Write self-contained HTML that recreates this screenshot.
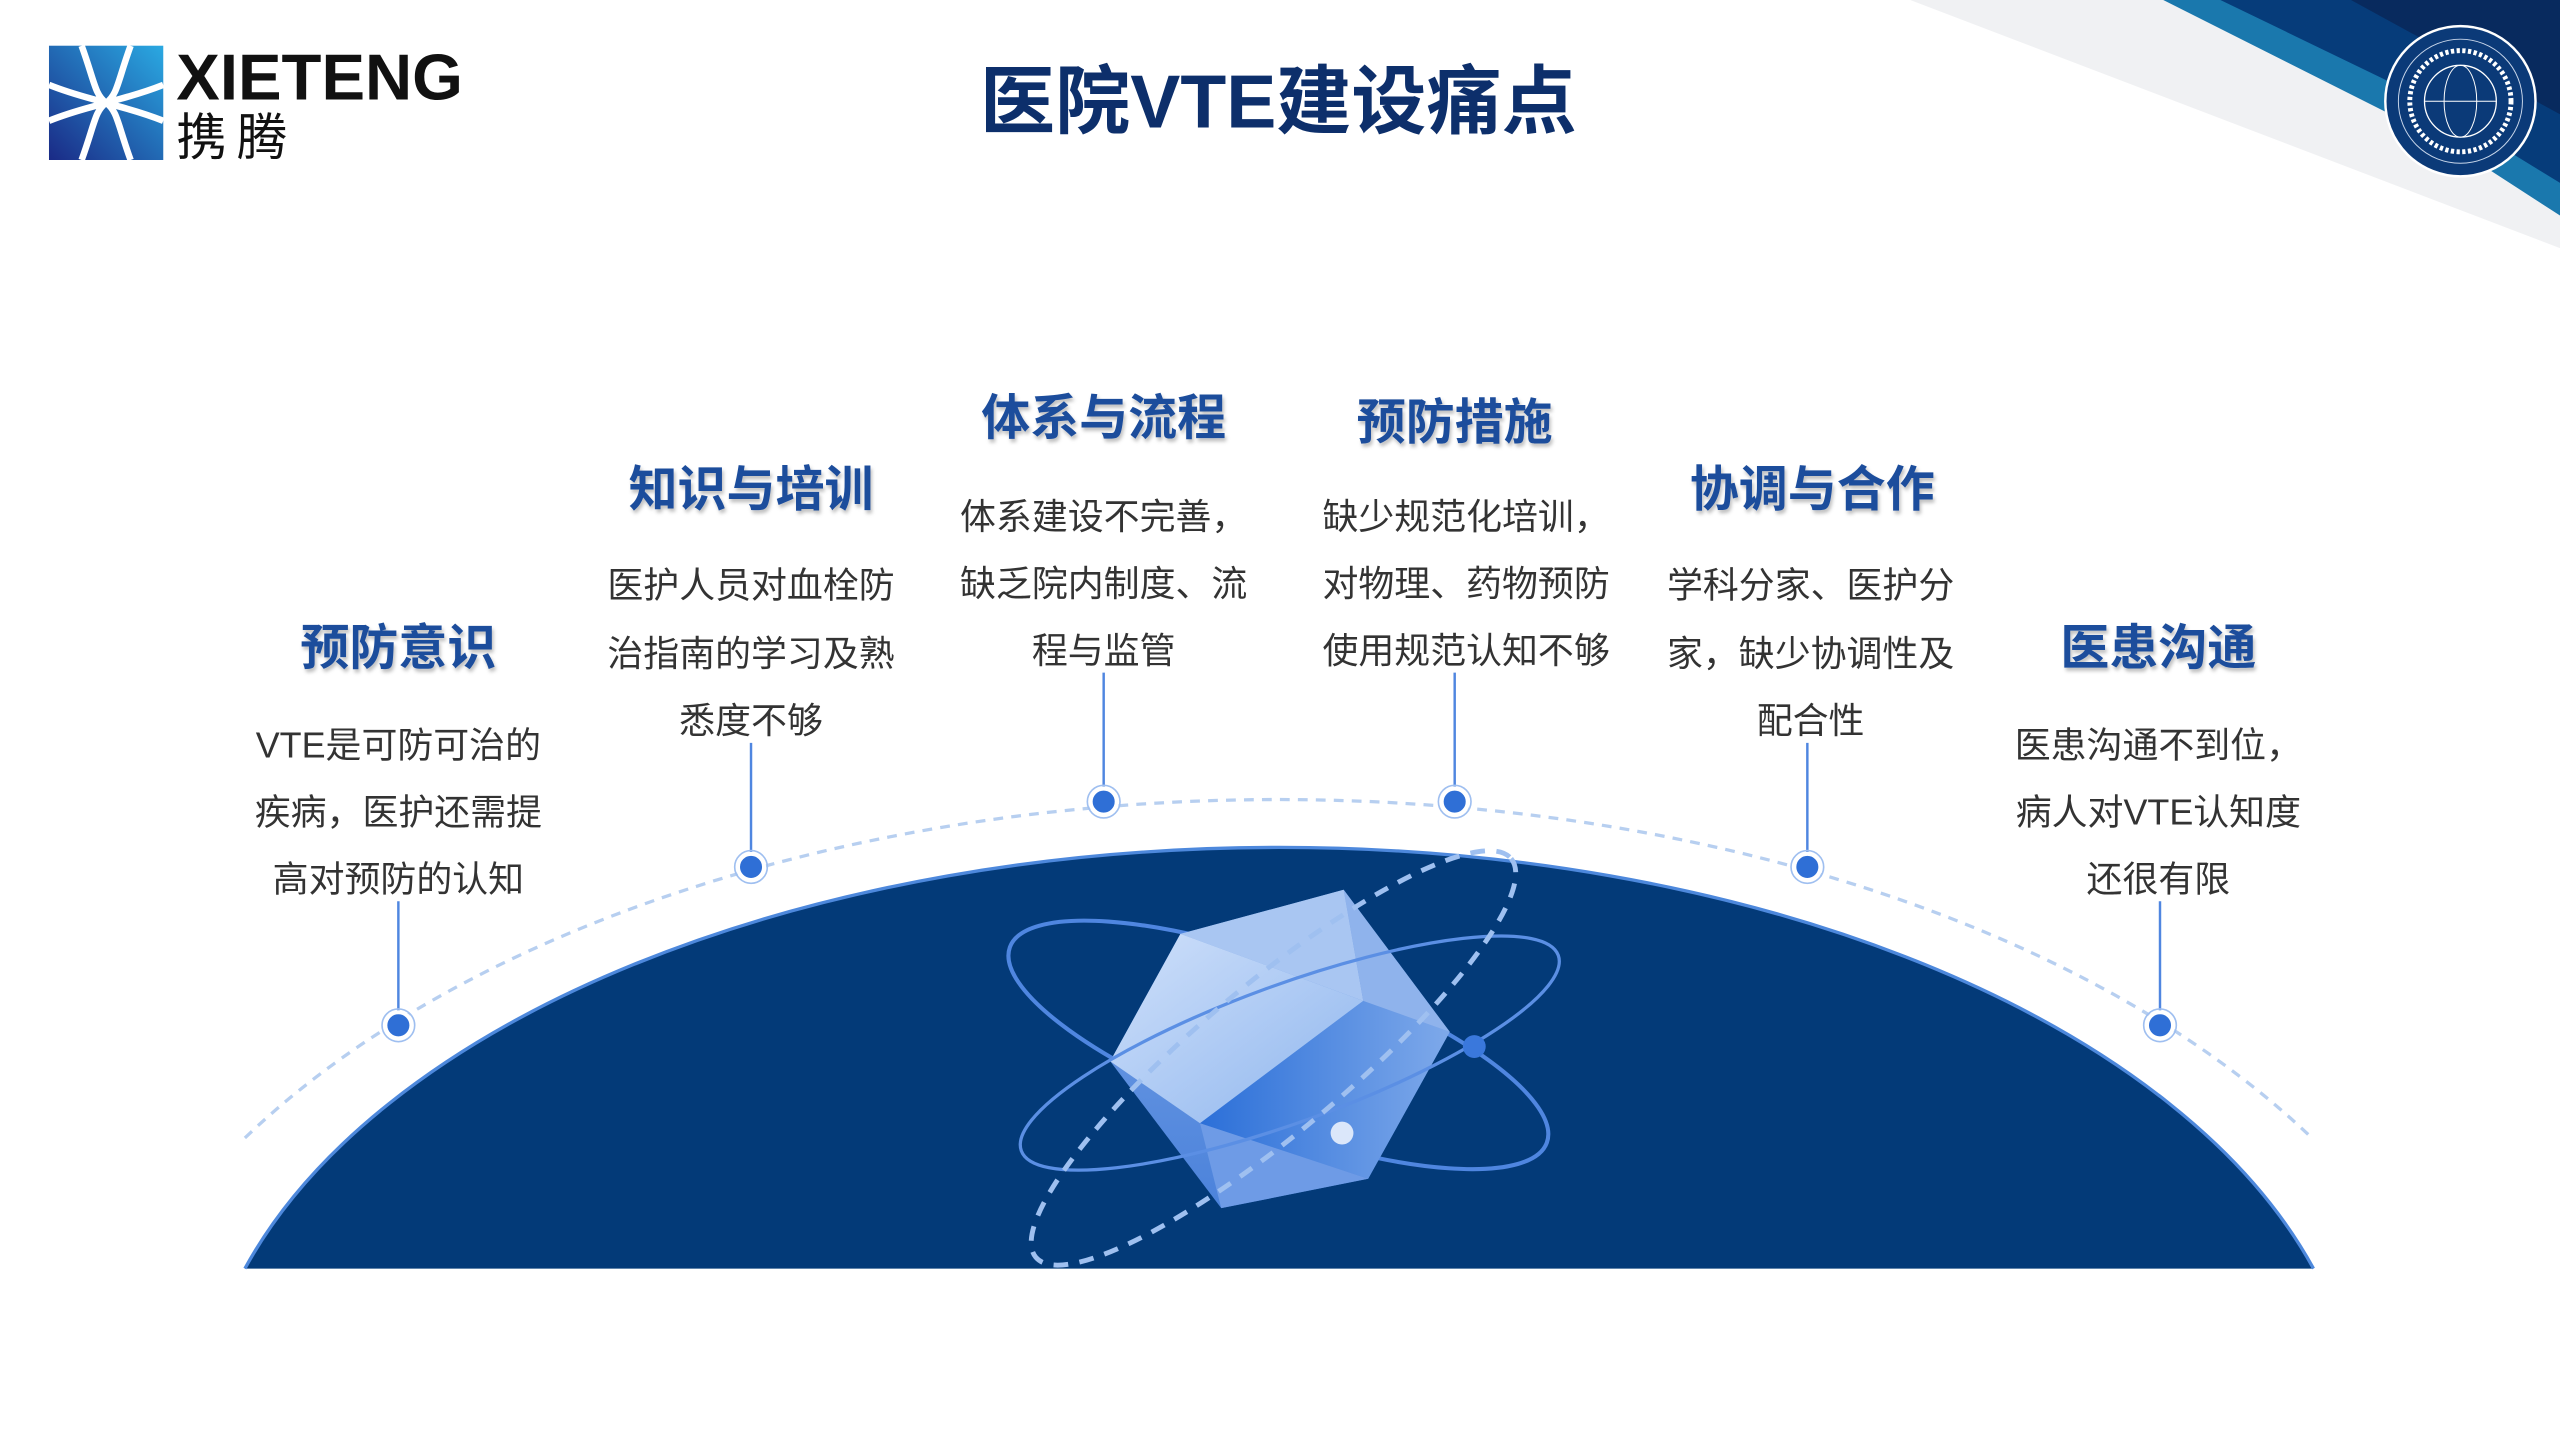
<!DOCTYPE html>
<html><head><meta charset="utf-8"><style>
html,body{margin:0;padding:0;background:#fff;}
svg{display:block;}
.t{font-family:"Liberation Sans","Noto Sans CJK SC",sans-serif;}
</style></head><body>
<svg width="2560" height="1440" viewBox="0 0 1568 882" xmlns="http://www.w3.org/2000/svg">
<defs>
<linearGradient id="lg" x1="1" y1="0" x2="0" y2="1"><stop offset="0" stop-color="#2aa9e2"/><stop offset="1" stop-color="#1a2a86"/></linearGradient>
<linearGradient id="c1" x1="0" y1="0" x2="1" y2="1"><stop offset="0" stop-color="#cfe0fa"/><stop offset="1" stop-color="#8fb6ee"/></linearGradient>
<linearGradient id="c2" x1="0" y1="0" x2="1" y2="0"><stop offset="0" stop-color="#2b6fd8"/><stop offset="1" stop-color="#7ea9ea"/></linearGradient>
<linearGradient id="c3" x1="0" y1="0" x2="0" y2="1"><stop offset="0" stop-color="#7ea8ec"/><stop offset="1" stop-color="#4f86e0"/></linearGradient>
<filter id="sh" x="-10%" y="-30%" width="120%" height="160%"><feDropShadow dx="1" dy="2" stdDeviation="1.2" flood-color="#000" flood-opacity="0.25"/></filter>
</defs>
<polygon points="1170,0 1568,0 1568,152" fill="#f0f1f3"/>
<polygon points="1325,0 1568,0 1568,132 1500,88" fill="#1a78ad"/>
<polygon points="1360,0 1568,0 1568,112 1480,58" fill="#063c7a"/>
<polygon points="1440,0 1568,0 1568,70" fill="#082a5e"/>
<circle cx="1507" cy="62" r="46" fill="#0b3a78" stroke="#fff" stroke-width="1.5"/>
<circle cx="1507" cy="62" r="38" fill="none" stroke="#c8d6ea" stroke-width="0.6"/>
<circle cx="1507" cy="62" r="31" fill="none" stroke="#fff" stroke-width="3" stroke-dasharray="2,1.5"/>
<circle cx="1507" cy="62" r="22" fill="none" stroke="#fff" stroke-width="0.8"/>
<ellipse cx="1507" cy="62" rx="10" ry="22" fill="none" stroke="#fff" stroke-width="0.6"/>
<line x1="1485" y1="62" x2="1529" y2="62" stroke="#fff" stroke-width="0.6"/>
<rect x="30" y="28" width="70" height="70" fill="url(#lg)"/>
<path d="M50,28 C58,50 58,58 65,63 C72,58 72,50 80,28 M50,98 C58,76 58,68 65,63 C72,68 72,76 80,98 M30,52 C45,58 55,60 65,63 C75,60 85,58 100,52 M30,74 C45,68 55,66 65,63 C75,66 85,68 100,74" fill="none" stroke="#fff" stroke-width="4"/>
<text x="108" y="61" class="t" font-size="40" font-weight="bold" fill="#111">XIETENG</text>
<text x="108" y="95" class="t" font-size="31" fill="#111" letter-spacing="6">携腾</text>
<text x="783" y="78" text-anchor="middle" class="t" font-size="46" font-weight="bold" fill="#0d2f6b">医院VTE建设痛点</text>
<path d="M150,777 A661,361 0 0 1 1417,777 Z" fill="#033a78"/>
<path d="M150,777 A661,361 0 0 1 1417,777" fill="none" stroke="#4d88dc" stroke-width="2"/>
<path d="M150,697 A740,430 0 0 1 1416,697" fill="none" stroke="#b7cff0" stroke-width="2" stroke-dasharray="6,5"/>
<g>
<ellipse cx="783" cy="640" rx="175" ry="50" transform="rotate(20 783 640)" fill="none" stroke="#4f86e0" stroke-width="2.5"/>
<polygon points="723,572 823,545 888,632 838,722 748,740 680,650" fill="url(#c3)" opacity="0.95"/>
<polygon points="723,572 823,545 835,613" fill="#a9c6f2"/>
<polygon points="723,572 835,613 735,688 680,650" fill="url(#c1)"/>
<polygon points="735,688 835,613 888,632 838,722" fill="url(#c2)"/>
<polygon points="735,688 838,722 748,740" fill="#6e9be6"/>
<polygon points="823,545 888,632 835,613" fill="#8fb3ec"/>
<ellipse cx="790" cy="645" rx="175" ry="42" transform="rotate(-20 790 645)" fill="none" stroke="#5b8fe4" stroke-width="2"/>
<ellipse cx="780" cy="648" rx="190" ry="45" transform="rotate(-40 780 648)" fill="none" stroke="#9fc0f0" stroke-width="3" stroke-dasharray="9,7"/>
<circle cx="903" cy="641" r="7" fill="#3a78dc"/>
<circle cx="822" cy="694" r="7" fill="#dbe7fa"/>
</g>
<g class="t" text-anchor="middle">
<g font-size="30" font-weight="bold" fill="#1f4e9c" filter="url(#sh)">
<text x="244" y="407">预防意识</text>
<text x="460" y="310">知识与培训</text>
<text x="676" y="266">体系与流程</text>
<text x="891" y="269">预防措施</text>
<text x="1110" y="310">协调与合作</text>
<text x="1322" y="407">医患沟通</text>
</g>
<g font-size="22" fill="#333">
<text x="244" y="464">VTE是可防可治的</text><text x="244" y="505">疾病，医护还需提</text><text x="244" y="546">高对预防的认知</text>
<text x="460" y="366">医护人员对血栓防</text><text x="460" y="408">治指南的学习及熟</text><text x="460" y="449">悉度不够</text>
<text x="676" y="324">体系建设不完善，</text><text x="676" y="365">缺乏院内制度、流</text><text x="676" y="406">程与监管</text>
<text x="898" y="324">缺少规范化培训，</text><text x="898" y="365">对物理、药物预防</text><text x="898" y="406">使用规范认知不够</text>
<text x="1109" y="366">学科分家、医护分</text><text x="1109" y="408">家，缺少协调性及</text><text x="1109" y="449">配合性</text>
<text x="1322" y="464">医患沟通不到位，</text><text x="1322" y="505">病人对VTE认知度</text><text x="1322" y="546">还很有限</text>
</g>
</g>
<g stroke="#4f86e0" stroke-width="1.5">
<line x1="244" y1="552" x2="244" y2="620"/>
<line x1="460" y1="455" x2="460" y2="523"/>
<line x1="676" y1="412" x2="676" y2="483"/>
<line x1="891" y1="412" x2="891" y2="483"/>
<line x1="1107" y1="455" x2="1107" y2="523"/>
<line x1="1323" y1="552" x2="1323" y2="620"/>
</g>
<g fill="#2f6fd6" stroke="#fff" stroke-width="2.5">
<circle cx="244" cy="628" r="8"/><circle cx="460" cy="531" r="8"/><circle cx="676" cy="491" r="8"/>
<circle cx="891" cy="491" r="8"/><circle cx="1107" cy="531" r="8"/><circle cx="1323" cy="628" r="8"/>
</g>
<g fill="none" stroke="#9fbff0" stroke-width="1">
<circle cx="244" cy="628" r="10"/><circle cx="460" cy="531" r="10"/><circle cx="676" cy="491" r="10"/>
<circle cx="891" cy="491" r="10"/><circle cx="1107" cy="531" r="10"/><circle cx="1323" cy="628" r="10"/>
</g>
</svg>
</body></html>
